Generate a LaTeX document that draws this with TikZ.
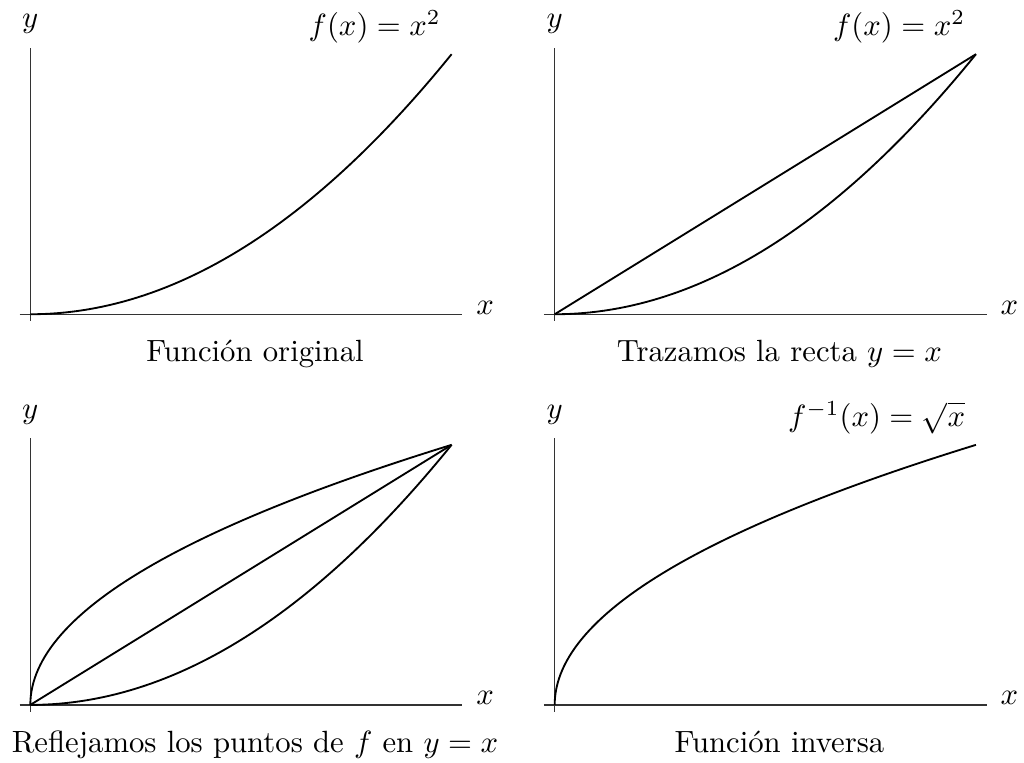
\documentclass[tikz,border=0pt]{standalone}
\usepackage{amsmath,amssymb}
\usepackage{tikz}
\usetikzlibrary{positioning,calc}

\begin{document}
\begin{tikzpicture}[
    ax/.style={thin, black!80},
    curve/.style={semithick, black},
    panel/.style={x=1.236cm, y=0.763cm},
    caption/.style={anchor=base}
]
\useasboundingbox (-0.347,-5.134) rectangle (11.37,3.596);

% Panel 1: original function
\begin{scope}[shift={(0cm,0cm)}, panel]
\coordinate (o1) at (0,0);
\coordinate (e1) at (3.9,3.9);
\draw[ax] (-0.1,0) -- (4,0) node[anchor=base west, xshift=1pt, black] (lx1) {$x$};
\draw[ax] (0,-0.1) -- (0,4) node[above, yshift=1pt, black] (ly1) {$y$};
\draw[curve] plot[domain=0:3.9, samples=60] (\x, {\x*\x/3.9});
\node[above left] (f1) at (e1) {$f(x) = x^2$};
\node[caption] (cap1) at (2.571cm,-0.542cm) {Función original};
\end{scope}

% Panel 2: the line y = x
\begin{scope}[shift={(6cm,0cm)}, panel]
\coordinate (o2) at (0,0);
\coordinate (e2) at (3.9,3.9);
\draw[ax] (-0.1,0) -- (4,0) node[anchor=base west, xshift=1pt, black] (lx2) {$x$};
\draw[ax] (0,-0.1) -- (0,4) node[above, yshift=1pt, black] (ly2) {$y$};
\draw[curve] plot[domain=0:3.9, samples=60] (\x, {\x*\x/3.9});
\draw[curve] (o2) -- (e2);
\node[above left] (f2) at (e2) {$f(x) = x^2$};
\node[caption] (cap2) at (2.571cm,-0.542cm) {Trazamos la recta $y = x$};
\end{scope}

% Panel 3: reflection
\begin{scope}[shift={(0cm,-4.47cm)}, panel]
\coordinate (o3) at (0,0);
\coordinate (e3) at (3.9,3.9);
\draw[ax] (-0.1,0) -- (4,0) node[anchor=base west, xshift=1pt, black] (lx3) {$x$};
\draw[ax] (0,-0.1) -- (0,4) node[above, yshift=1pt, black] (ly3) {$y$};
\draw[curve] plot[domain=0:3.9, samples=60] (\x, {\x*\x/3.9});
\draw[curve] plot[domain=0:3.9, samples=60] ({\x*\x/3.9}, \x);
\draw[curve] (o3) -- (e3);
\node[caption] (cap3) at (2.571cm,-0.542cm) {Reflejamos los puntos de $f$ en $y = x$};
\end{scope}

% Panel 4: inverse function
\begin{scope}[shift={(6cm,-4.47cm)}, panel]
\coordinate (o4) at (0,0);
\coordinate (e4) at (3.9,3.9);
\draw[ax] (-0.1,0) -- (4,0) node[anchor=base west, xshift=1pt, black] (lx4) {$x$};
\draw[ax] (0,-0.1) -- (0,4) node[above, yshift=1pt, black] (ly4) {$y$};
\draw[curve] plot[domain=0:3.9, samples=60] ({\x*\x/3.9}, \x);
\node[above left] (f4) at (e4) {$f^{-1}(x) = \sqrt{x}$};
\node[caption] (cap4) at (2.571cm,-0.542cm) {Función inversa};
\end{scope}

\end{tikzpicture}
\end{document}
